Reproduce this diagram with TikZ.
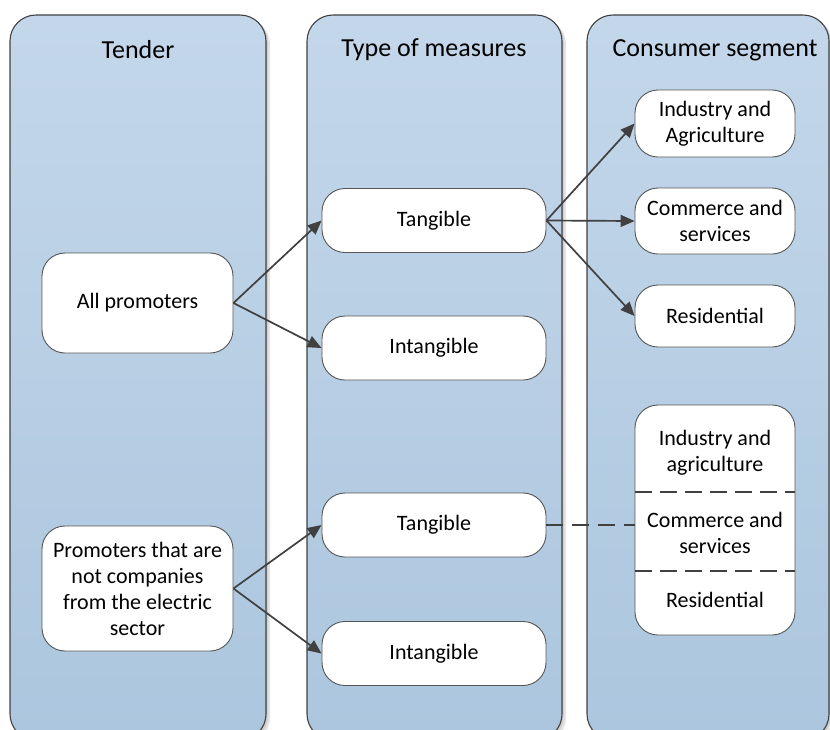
\documentclass[tikz,border=0pt]{standalone}
\usepackage{fontspec}
\setmainfont{Carlito}
\usetikzlibrary{arrows.meta}
\definecolor{laneTop}{HTML}{C4D7EA}
\definecolor{laneBot}{HTML}{ABC6DE}
\definecolor{edgeGray}{HTML}{404040}
\definecolor{boxLine}{HTML}{555555}
\tikzset{
  lane/.style={draw=edgeGray, line width=1.1pt, rounded corners=26pt,
    top color=laneTop, bottom color=laneBot},
  laneshadow/.style={fill=black, fill opacity=0.10, rounded corners=26pt},
  lanetitle/.style={font=\fontsize{26}{30}\selectfont, text=black},
  box/.style={draw=boxLine, line width=0.9pt, fill=white, rounded corners=23pt,
    align=center, inner sep=0pt, font=\fontsize{22}{26}\selectfont},
  label/.style={align=center, inner sep=0pt, font=\fontsize{22}{26}\selectfont},
  flow/.style={draw=edgeGray, line width=1.7pt,
    -{Triangle[length=14pt,width=12pt]}},
  link/.style={draw=edgeGray, line width=1.6pt, dash pattern=on 17pt off 9pt},
  divider/.style={draw=edgeGray, line width=1.4pt, dash pattern=on 17pt off 8pt}
}
\begin{document}
\begin{tikzpicture}[x=1pt, y=-1pt]
\useasboundingbox (0,0) rectangle (830,729);
\clip (0,0) rectangle (830,729);

% lanes with soft shadows
\foreach \xa/\xb in {10/266, 307/562, 587/829}{
  \path[laneshadow] (\xa+3,18) rectangle (\xb+4,744);
  \path[laneshadow] (\xa+2,17) rectangle (\xb+2,742);
  \path[lane] (\xa,15) rectangle (\xb,740);
}

% lane titles
\node[lanetitle] (tTender)  at (138,50) {Tender};
\node[lanetitle] (tType)    at (434,50) {Type of measures};
\node[lanetitle] (tSegment) at (715,50) {Consumer segment};

% tender column
\node[box, minimum width=191pt, minimum height=100pt] (all) at (137.5,303) {All promoters};
\node[box, minimum width=191pt, minimum height=125pt] (prom) at (137.5,588.5)
  {Promoters that are\\not companies\\from the electric\\sector};

% type of measures column
\node[box, minimum width=224pt, minimum height=64pt] (tanA) at (434,220.5) {Tangible};
\node[box, minimum width=224pt, minimum height=64pt] (intA) at (434,348) {Intangible};
\node[box, minimum width=224pt, minimum height=64pt] (tanB) at (434,525) {Tangible};
\node[box, minimum width=224pt, minimum height=64pt] (intB) at (434,653.5) {Intangible};

% consumer segment column
\node[box, minimum width=160pt, minimum height=67pt] (ind) at (715,123.5) {Industry and\\Agriculture};
\node[box, minimum width=160pt, minimum height=66pt] (com) at (715,221) {Commerce and\\services};
\node[box, minimum width=160pt, minimum height=62pt] (res) at (715,316) {Residential};

\node[box, minimum width=160pt, minimum height=230pt] (grp) at (715,520) {};
\coordinate (gA) at (635,492);
\coordinate (gB) at (795,492);
\coordinate (gC) at (635,571);
\coordinate (gD) at (795,571);
\draw[divider] (gA) -- (gB);
\draw[divider] (gC) -- (gD);
\node[label] (gInd) at (715,453) {Industry and\\agriculture};
\node[label] (gCom) at (715,533) {Commerce and\\services};
\node[label] (gRes) at (715,600) {Residential};

% connectors
\draw[flow] (all.east) -- (tanA.west);
\draw[flow] (all.east) -- (intA.west);
\draw[flow] (prom.east) -- (tanB.west);
\draw[flow] (prom.east) -- (intB.west);
\draw[flow] (tanA.east) -- (ind.west);
\draw[flow] (tanA.east) -- (com.west);
\draw[flow] (tanA.east) -- (res.west);
\draw[link] (tanB.east) -- (grp.west |- tanB.east);
\end{tikzpicture}
\end{document}
